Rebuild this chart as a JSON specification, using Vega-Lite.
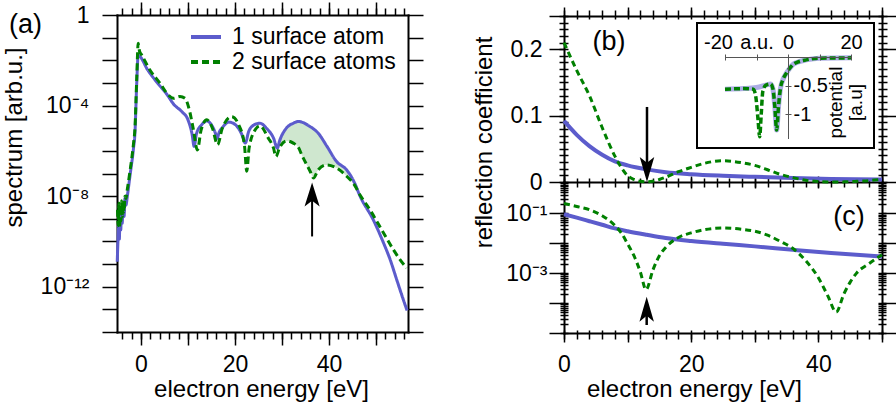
{
  "$schema": "https://vega.github.io/schema/vega-lite/v6.json",
  "width": 896,
  "height": 406,
  "autosize": "none",
  "padding": 0,
  "config": {
    "view": {"stroke": null},
    "font": "Liberation Sans",
    "axis": {
      "grid": false,
      "domainColor": "#000",
      "domainWidth": 2,
      "domainCap": "square",
      "tickColor": "#000",
      "tickWidth": 1.5,
      "labelColor": "#000",
      "labelFont": "Liberation Sans",
      "labelFontSize": 23,
      "labelFlush": false,
      "labelOverlap": false,
      "labelBound": false,
      "titleColor": "#000",
      "titleFont": "Liberation Sans",
      "titleFontSize": 24,
      "titleFontWeight": "normal",
      "titlePadding": 0
    }
  },
  "datasets": {
    "spectrum": [
      {"E": -5.05, "S": 1.26e-11, "series": "1 surface atom"},
      {"E": -4.9, "S": 1e-10, "series": "1 surface atom"},
      {"E": -4.75, "S": 5.01e-10, "series": "1 surface atom"},
      {"E": -4.6, "S": 1.26e-10, "series": "1 surface atom"},
      {"E": -4.45, "S": 2.0e-9, "series": "1 surface atom"},
      {"E": -4.3, "S": 3.16e-10, "series": "1 surface atom"},
      {"E": -4.15, "S": 3.16e-9, "series": "1 surface atom"},
      {"E": -4.0, "S": 6.31e-10, "series": "1 surface atom"},
      {"E": -3.8, "S": 3.98e-9, "series": "1 surface atom"},
      {"E": -3.6, "S": 1.26e-9, "series": "1 surface atom"},
      {"E": -3.4, "S": 7.94e-9, "series": "1 surface atom"},
      {"E": -3.2, "S": 3.98e-9, "series": "1 surface atom"},
      {"E": -2.9, "S": 1e-8, "series": "1 surface atom"},
      {"E": -2.34, "S": 7.94e-8, "series": "1 surface atom"},
      {"E": -1.6, "S": 1.26e-6, "series": "1 surface atom"},
      {"E": -1.28, "S": 6.31e-6, "series": "1 surface atom"},
      {"E": -0.9, "S": 1e-3, "series": "1 surface atom"},
      {"E": -0.6, "S": 1.66e-2, "series": "1 surface atom"},
      {"E": 1.5, "S": 3.55e-3, "series": "1 surface atom"},
      {"E": 3.5, "S": 1e-3, "series": "1 surface atom"},
      {"E": 5.5, "S": 3.16e-4, "series": "1 surface atom"},
      {"E": 7.0, "S": 1.12e-4, "series": "1 surface atom"},
      {"E": 8.7, "S": 5.37e-5, "series": "1 surface atom"},
      {"E": 10.0, "S": 2.34e-5, "series": "1 surface atom"},
      {"E": 10.9, "S": 5.01e-6, "series": "1 surface atom"},
      {"E": 11.3, "S": 1.58e-6, "series": "1 surface atom"},
      {"E": 11.8, "S": 5.62e-6, "series": "1 surface atom"},
      {"E": 12.9, "S": 1.41e-5, "series": "1 surface atom"},
      {"E": 14.0, "S": 2.09e-5, "series": "1 surface atom"},
      {"E": 15.0, "S": 1.41e-5, "series": "1 surface atom"},
      {"E": 15.8, "S": 6.31e-6, "series": "1 surface atom"},
      {"E": 16.2, "S": 3.55e-6, "series": "1 surface atom"},
      {"E": 16.6, "S": 6.31e-6, "series": "1 surface atom"},
      {"E": 17.4, "S": 1.12e-5, "series": "1 surface atom"},
      {"E": 18.7, "S": 1.86e-5, "series": "1 surface atom"},
      {"E": 20.0, "S": 1.48e-5, "series": "1 surface atom"},
      {"E": 21.4, "S": 5.62e-6, "series": "1 surface atom"},
      {"E": 22.2, "S": 2.24e-6, "series": "1 surface atom"},
      {"E": 22.9, "S": 7.08e-6, "series": "1 surface atom"},
      {"E": 24.0, "S": 1.38e-5, "series": "1 surface atom"},
      {"E": 25.3, "S": 1.66e-5, "series": "1 surface atom"},
      {"E": 26.7, "S": 1e-5, "series": "1 surface atom"},
      {"E": 28.2, "S": 3.63e-6, "series": "1 surface atom"},
      {"E": 29.0, "S": 1.32e-6, "series": "1 surface atom"},
      {"E": 29.5, "S": 2.82e-6, "series": "1 surface atom"},
      {"E": 31.0, "S": 1.05e-5, "series": "1 surface atom"},
      {"E": 32.4, "S": 1.66e-5, "series": "1 surface atom"},
      {"E": 33.5, "S": 2.0e-5, "series": "1 surface atom"},
      {"E": 34.2, "S": 1.86e-5, "series": "1 surface atom"},
      {"E": 36.0, "S": 1.17e-5, "series": "1 surface atom"},
      {"E": 36.7, "S": 9.33e-6, "series": "1 surface atom"},
      {"E": 37.7, "S": 6.03e-6, "series": "1 surface atom"},
      {"E": 39.5, "S": 1.66e-6, "series": "1 surface atom"},
      {"E": 41.6, "S": 3.39e-7, "series": "1 surface atom"},
      {"E": 43.8, "S": 1.41e-7, "series": "1 surface atom"},
      {"E": 45.4, "S": 3.98e-8, "series": "1 surface atom"},
      {"E": 46.6, "S": 1e-8, "series": "1 surface atom"},
      {"E": 49.4, "S": 9.12e-10, "series": "1 surface atom"},
      {"E": 51.6, "S": 8.51e-11, "series": "1 surface atom"},
      {"E": 53.0, "S": 1.58e-11, "series": "1 surface atom"},
      {"E": 54.4, "S": 2.04e-12, "series": "1 surface atom"},
      {"E": 55.8, "S": 2.69e-13, "series": "1 surface atom"},
      {"E": 56.6, "S": 8.91e-14, "series": "1 surface atom"},
      {"E": -5.0, "S": 2.51e-9, "series": "2 surface atoms"},
      {"E": -4.85, "S": 5.01e-10, "series": "2 surface atoms"},
      {"E": -4.7, "S": 5.01e-9, "series": "2 surface atoms"},
      {"E": -4.55, "S": 3.98e-10, "series": "2 surface atoms"},
      {"E": -4.4, "S": 3.98e-9, "series": "2 surface atoms"},
      {"E": -4.25, "S": 7.94e-10, "series": "2 surface atoms"},
      {"E": -4.1, "S": 6.31e-9, "series": "2 surface atoms"},
      {"E": -3.95, "S": 1.26e-9, "series": "2 surface atoms"},
      {"E": -3.8, "S": 5.01e-9, "series": "2 surface atoms"},
      {"E": -3.6, "S": 2.0e-9, "series": "2 surface atoms"},
      {"E": -3.4, "S": 1e-8, "series": "2 surface atoms"},
      {"E": -3.2, "S": 7.94e-9, "series": "2 surface atoms"},
      {"E": -2.9, "S": 2.0e-8, "series": "2 surface atoms"},
      {"E": -2.34, "S": 1.26e-7, "series": "2 surface atoms"},
      {"E": -1.6, "S": 2.0e-6, "series": "2 surface atoms"},
      {"E": -1.28, "S": 1e-5, "series": "2 surface atoms"},
      {"E": -0.9, "S": 1.58e-3, "series": "2 surface atoms"},
      {"E": -0.6, "S": 5.62e-2, "series": "2 surface atoms"},
      {"E": -0.3, "S": 2.51e-2, "series": "2 surface atoms"},
      {"E": 0.14, "S": 1.74e-2, "series": "2 surface atoms"},
      {"E": 1.9, "S": 3.72e-3, "series": "2 surface atoms"},
      {"E": 4.04, "S": 9.77e-4, "series": "2 surface atoms"},
      {"E": 5.8, "S": 2.95e-4, "series": "2 surface atoms"},
      {"E": 6.9, "S": 2.09e-4, "series": "2 surface atoms"},
      {"E": 8.3, "S": 2.51e-4, "series": "2 surface atoms"},
      {"E": 9.36, "S": 2.09e-4, "series": "2 surface atoms"},
      {"E": 10.2, "S": 7.59e-5, "series": "2 surface atoms"},
      {"E": 11.1, "S": 1e-5, "series": "2 surface atoms"},
      {"E": 12.0, "S": 1.10e-6, "series": "2 surface atoms"},
      {"E": 12.8, "S": 8.51e-6, "series": "2 surface atoms"},
      {"E": 14.0, "S": 2.34e-5, "series": "2 surface atoms"},
      {"E": 15.2, "S": 1e-5, "series": "2 surface atoms"},
      {"E": 16.3, "S": 1.86e-6, "series": "2 surface atoms"},
      {"E": 17.3, "S": 1e-5, "series": "2 surface atoms"},
      {"E": 19.3, "S": 3.24e-5, "series": "2 surface atoms"},
      {"E": 20.8, "S": 1.41e-5, "series": "2 surface atoms"},
      {"E": 22.0, "S": 1.86e-6, "series": "2 surface atoms"},
      {"E": 22.5, "S": 1.26e-7, "series": "2 surface atoms"},
      {"E": 23.0, "S": 1.32e-6, "series": "2 surface atoms"},
      {"E": 24.3, "S": 8.51e-6, "series": "2 surface atoms"},
      {"E": 25.3, "S": 1.26e-5, "series": "2 surface atoms"},
      {"E": 27.1, "S": 3.63e-6, "series": "2 surface atoms"},
      {"E": 28.2, "S": 1.32e-6, "series": "2 surface atoms"},
      {"E": 28.7, "S": 5.62e-7, "series": "2 surface atoms"},
      {"E": 29.5, "S": 1.41e-6, "series": "2 surface atoms"},
      {"E": 31.0, "S": 2.75e-6, "series": "2 surface atoms"},
      {"E": 32.4, "S": 2.19e-6, "series": "2 surface atoms"},
      {"E": 33.5, "S": 1.41e-6, "series": "2 surface atoms"},
      {"E": 34.2, "S": 6.61e-7, "series": "2 surface atoms"},
      {"E": 36.0, "S": 1.23e-7, "series": "2 surface atoms"},
      {"E": 36.7, "S": 6.31e-8, "series": "2 surface atoms"},
      {"E": 37.7, "S": 1.45e-7, "series": "2 surface atoms"},
      {"E": 39.5, "S": 2.40e-7, "series": "2 surface atoms"},
      {"E": 41.6, "S": 1.74e-7, "series": "2 surface atoms"},
      {"E": 43.8, "S": 7.41e-8, "series": "2 surface atoms"},
      {"E": 45.4, "S": 3.16e-8, "series": "2 surface atoms"},
      {"E": 46.6, "S": 1.12e-8, "series": "2 surface atoms"},
      {"E": 48.7, "S": 2.51e-9, "series": "2 surface atoms"},
      {"E": 51.6, "S": 2.34e-10, "series": "2 surface atoms"},
      {"E": 53.7, "S": 4.27e-11, "series": "2 surface atoms"},
      {"E": 55.1, "S": 1.58e-11, "series": "2 surface atoms"},
      {"E": 56.5, "S": 6.76e-12, "series": "2 surface atoms"}
    ],
    "gap": [
      {"E": 29.5, "lo": 1.41e-6, "hi": 2.82e-6},
      {"E": 31.0, "lo": 2.75e-6, "hi": 1.05e-5},
      {"E": 32.4, "lo": 2.19e-6, "hi": 1.66e-5},
      {"E": 33.5, "lo": 1.41e-6, "hi": 2.0e-5},
      {"E": 34.2, "lo": 6.61e-7, "hi": 1.86e-5},
      {"E": 36.0, "lo": 1.23e-7, "hi": 1.17e-5},
      {"E": 36.7, "lo": 6.31e-8, "hi": 9.33e-6},
      {"E": 37.7, "lo": 1.45e-7, "hi": 6.03e-6},
      {"E": 39.5, "lo": 2.40e-7, "hi": 1.66e-6},
      {"E": 41.6, "lo": 1.74e-7, "hi": 3.39e-7},
      {"E": 43.8, "lo": 7.41e-8, "hi": 1.41e-7},
      {"E": 45.4, "lo": 3.16e-8, "hi": 3.98e-8}
    ],
    "reflection": [
      {"E": 0, "R": 0.092, "series": "1 surface atom"},
      {"E": 2, "R": 0.071, "series": "1 surface atom"},
      {"E": 4, "R": 0.054, "series": "1 surface atom"},
      {"E": 6, "R": 0.041, "series": "1 surface atom"},
      {"E": 8, "R": 0.031, "series": "1 surface atom"},
      {"E": 10, "R": 0.025, "series": "1 surface atom"},
      {"E": 13, "R": 0.019, "series": "1 surface atom"},
      {"E": 16, "R": 0.0148, "series": "1 surface atom"},
      {"E": 20, "R": 0.0118, "series": "1 surface atom"},
      {"E": 25, "R": 0.0095, "series": "1 surface atom"},
      {"E": 30, "R": 0.0078, "series": "1 surface atom"},
      {"E": 36, "R": 0.006, "series": "1 surface atom"},
      {"E": 42, "R": 0.0047, "series": "1 surface atom"},
      {"E": 50, "R": 0.0036, "series": "1 surface atom"},
      {"E": 0, "R": 0.21, "series": "2 surface atoms"},
      {"E": 2, "R": 0.168, "series": "2 surface atoms"},
      {"E": 4, "R": 0.13, "series": "2 surface atoms"},
      {"E": 6, "R": 0.082, "series": "2 surface atoms"},
      {"E": 8, "R": 0.039, "series": "2 surface atoms"},
      {"E": 9, "R": 0.022, "series": "2 surface atoms"},
      {"E": 10, "R": 0.0095, "series": "2 surface atoms"},
      {"E": 11, "R": 0.0038, "series": "2 surface atoms"},
      {"E": 12, "R": 0.0011, "series": "2 surface atoms"},
      {"E": 12.9, "R": 0.00028, "series": "2 surface atoms"},
      {"E": 14, "R": 0.0013, "series": "2 surface atoms"},
      {"E": 15, "R": 0.0038, "series": "2 surface atoms"},
      {"E": 16, "R": 0.0072, "series": "2 surface atoms"},
      {"E": 18, "R": 0.0155, "series": "2 surface atoms"},
      {"E": 20, "R": 0.022, "series": "2 surface atoms"},
      {"E": 22, "R": 0.028, "series": "2 surface atoms"},
      {"E": 25, "R": 0.032, "series": "2 surface atoms"},
      {"E": 28, "R": 0.029, "series": "2 surface atoms"},
      {"E": 30, "R": 0.025, "series": "2 surface atoms"},
      {"E": 32, "R": 0.0185, "series": "2 surface atoms"},
      {"E": 34, "R": 0.0115, "series": "2 surface atoms"},
      {"E": 36, "R": 0.0066, "series": "2 surface atoms"},
      {"E": 38, "R": 0.0026, "series": "2 surface atoms"},
      {"E": 40, "R": 0.0007, "series": "2 surface atoms"},
      {"E": 41.5, "R": 0.00017, "series": "2 surface atoms"},
      {"E": 42.8, "R": 0.00005, "series": "2 surface atoms"},
      {"E": 44, "R": 0.0002, "series": "2 surface atoms"},
      {"E": 45, "R": 0.0005, "series": "2 surface atoms"},
      {"E": 46, "R": 0.001, "series": "2 surface atoms"},
      {"E": 48, "R": 0.0021, "series": "2 surface atoms"},
      {"E": 50, "R": 0.0041, "series": "2 surface atoms"}
    ],
    "potential": [
      {"z": -20, "V": -0.56, "series": "1 surface atom"},
      {"z": -14, "V": -0.55, "series": "1 surface atom"},
      {"z": -10, "V": -0.53, "series": "1 surface atom"},
      {"z": -7, "V": -0.49, "series": "1 surface atom"},
      {"z": -5.5, "V": -0.47, "series": "1 surface atom"},
      {"z": -4.8, "V": -0.55, "series": "1 surface atom"},
      {"z": -4.2, "V": -0.85, "series": "1 surface atom"},
      {"z": -3.6, "V": -1.27, "series": "1 surface atom"},
      {"z": -3.0, "V": -0.85, "series": "1 surface atom"},
      {"z": -2.4, "V": -0.55, "series": "1 surface atom"},
      {"z": -1.5, "V": -0.38, "series": "1 surface atom"},
      {"z": -0.5, "V": -0.28, "series": "1 surface atom"},
      {"z": 0.5, "V": -0.2, "series": "1 surface atom"},
      {"z": 1.6, "V": -0.13, "series": "1 surface atom"},
      {"z": 3, "V": -0.09, "series": "1 surface atom"},
      {"z": 5.8, "V": -0.05, "series": "1 surface atom"},
      {"z": 10, "V": -0.02, "series": "1 surface atom"},
      {"z": 20, "V": -0.015, "series": "1 surface atom"},
      {"z": -20, "V": -0.56, "series": "2 surface atoms"},
      {"z": -14, "V": -0.55, "series": "2 surface atoms"},
      {"z": -11, "V": -0.56, "series": "2 surface atoms"},
      {"z": -10.2, "V": -0.7, "series": "2 surface atoms"},
      {"z": -9.5, "V": -1.1, "series": "2 surface atoms"},
      {"z": -9.0, "V": -1.39, "series": "2 surface atoms"},
      {"z": -8.5, "V": -1.0, "series": "2 surface atoms"},
      {"z": -8.0, "V": -0.6, "series": "2 surface atoms"},
      {"z": -7, "V": -0.49, "series": "2 surface atoms"},
      {"z": -5.5, "V": -0.47, "series": "2 surface atoms"},
      {"z": -4.8, "V": -0.55, "series": "2 surface atoms"},
      {"z": -4.2, "V": -0.85, "series": "2 surface atoms"},
      {"z": -3.6, "V": -1.27, "series": "2 surface atoms"},
      {"z": -3.0, "V": -0.85, "series": "2 surface atoms"},
      {"z": -2.4, "V": -0.55, "series": "2 surface atoms"},
      {"z": -1.5, "V": -0.38, "series": "2 surface atoms"},
      {"z": -0.5, "V": -0.28, "series": "2 surface atoms"},
      {"z": 0.5, "V": -0.2, "series": "2 surface atoms"},
      {"z": 1.6, "V": -0.13, "series": "2 surface atoms"},
      {"z": 3, "V": -0.09, "series": "2 surface atoms"},
      {"z": 5.8, "V": -0.05, "series": "2 surface atoms"},
      {"z": 10, "V": -0.02, "series": "2 surface atoms"},
      {"z": 20, "V": -0.015, "series": "2 surface atoms"}
    ],
    "arrows": [
      {"panel": "a", "E": 36.4, "tip": 3.98e-8, "mid": 1.17e-8, "tail": 1.66e-10},
      {"panel": "b", "E": 13.05, "tip": 0, "mid": 0.0196, "tail": 0.113},
      {"panel": "c", "E": 13.0, "tip": 1.63e-4, "mid": 6.49e-5, "tail": 1.85e-5}
    ]
  },
  "layer": [
    {
      "layer": [
        {
          "data": {"name": "gap"},
          "mark": {"type": "area", "interpolate": "monotone", "color": "#cfe7cf"},
          "encoding": {
            "x": {"field": "E", "type": "quantitative",
              "scale": {"domain": [-5.1, 56.8], "range": [117, 408], "nice": false, "zero": false},
              "axis": {"orient": "bottom", "offset": -74, "values": [0, 10, 20, 30, 40, 50], "tickSize": 13, "labelPadding": 8,
                "labelExpr": "datum.value % 20 == 0 ? datum.label : ''",
                "title": "electron energy [eV]", "titleX": 261, "titleY": 57.5, "titleAngle": 0, "titleAlign": "center", "titleBaseline": "middle"}},
            "y": {"field": "lo", "type": "quantitative",
              "scale": {"type": "log", "domain": [1e-14, 1], "range": [332, 15], "nice": false},
              "axis": {"orient": "left", "offset": -117, "values": [1, 0.1, 0.01, 0.001, 1e-4, 1e-5, 1e-6, 1e-7, 1e-8, 1e-9, 1e-10, 1e-11, 1e-12, 1e-13, 1e-14],
                "tickSize": 15, "labelPadding": 13,
                "labelExpr": "round(log(datum.value)/LN10) == 0 ? '1' : round(log(datum.value)/LN10) == -4 ? '10⁻⁴' : round(log(datum.value)/LN10) == -8 ? '10⁻⁸' : round(log(datum.value)/LN10) == -12 ? '10⁻¹²' : ''",
                "title": "spectrum [arb.u.]", "titleX": -103, "titleY": 137, "titleAngle": 270, "titleAlign": "center", "titleBaseline": "middle"}},
            "y2": {"field": "hi"}
          }
        },
        {
          "data": {"name": "spectrum"},
          "mark": {"type": "line", "interpolate": "monotone", "strokeWidth": 3},
          "encoding": {
            "x": {"field": "E", "type": "quantitative",
              "scale": {"domain": [-5.1, 56.8], "range": [117, 408], "nice": false, "zero": false},
              "axis": {"orient": "bottom", "offset": -74, "values": [-4, -2, 0, 2, 4, 6, 8, 10, 12, 14, 16, 18, 20, 22, 24, 26, 28, 30, 32, 34, 36, 38, 40, 42, 44, 46, 48, 50, 52, 54, 56],
                "tickSize": 7, "labels": false, "domain": false, "title": null}},
            "y": {"field": "S", "type": "quantitative",
              "scale": {"type": "log", "domain": [1e-14, 1], "range": [332, 15], "nice": false},
              "axis": {"orient": "right", "offset": -488, "values": [1, 0.1, 0.01, 0.001, 1e-4, 1e-5, 1e-6, 1e-7, 1e-8, 1e-9, 1e-10, 1e-11, 1e-12, 1e-13, 1e-14],
                "tickSize": 15, "labels": false, "title": null}},
            "color": {"field": "series", "type": "nominal",
              "scale": {"domain": ["1 surface atom", "2 surface atoms"], "range": ["#5c5ccc", "#008000"]},
              "legend": {"title": null, "orient": "none", "legendX": 189, "legendY": 27, "symbolType": "stroke", "symbolSize": 900, "symbolStrokeWidth": 4,
                "labelFont": "Liberation Sans", "labelFontSize": 23, "labelColor": "#000", "labelOffset": 9, "labelLimit": 400, "clipHeight": 20, "rowPadding": 2, "padding": 0}},
            "strokeDash": {"field": "series", "type": "nominal",
              "scale": {"domain": ["1 surface atom", "2 surface atoms"], "range": [[1, 0], [7, 4]]},
              "legend": {"title": null, "orient": "none", "legendX": 189, "legendY": 27, "symbolType": "stroke", "symbolSize": 900, "symbolStrokeWidth": 4,
                "labelFont": "Liberation Sans", "labelFontSize": 23, "labelColor": "#000", "labelOffset": 9, "labelLimit": 400, "clipHeight": 20, "rowPadding": 2, "padding": 0}}
          }
        },
        {
          "data": {"name": "arrows"},
          "transform": [{"filter": "datum.panel == 'a'"}],
          "mark": {"type": "rule", "strokeWidth": 2, "color": "#000"},
          "encoding": {
            "x": {"field": "E", "type": "quantitative",
              "scale": {"domain": [-5.1, 56.8], "range": [117, 408], "nice": false, "zero": false},
              "axis": {"orient": "top", "offset": -15, "values": [0, 10, 20, 30, 40, 50], "tickSize": 13, "labels": false,
                "title": "(a)", "titleX": 25, "titleY": 9, "titleAngle": 0, "titleAlign": "center", "titleBaseline": "middle", "titleFontSize": 27}},
            "y": {"field": "tail", "type": "quantitative",
              "scale": {"type": "log", "domain": [1e-14, 1], "range": [332, 15], "nice": false}, "axis": null},
            "y2": {"field": "mid"}
          }
        },
        {
          "data": {"name": "arrows"},
          "transform": [{"filter": "datum.panel == 'a'"}],
          "mark": {"type": "point", "shape": "M0,0L0.6,1.9L0,1.45L-0.6,1.9Z", "size": 635, "filled": true, "color": "#000", "opacity": 1, "strokeWidth": 0},
          "encoding": {
            "x": {"field": "E", "type": "quantitative",
              "scale": {"domain": [-5.1, 56.8], "range": [117, 408], "nice": false, "zero": false},
              "axis": {"orient": "top", "offset": -15, "values": [-4, -2, 0, 2, 4, 6, 8, 10, 12, 14, 16, 18, 20, 22, 24, 26, 28, 30, 32, 34, 36, 38, 40, 42, 44, 46, 48, 50, 52, 54, 56],
                "tickSize": 7, "labels": false, "domain": false, "title": null}},
            "y": {"field": "tip", "type": "quantitative",
              "scale": {"type": "log", "domain": [1e-14, 1], "range": [332, 15], "nice": false}, "axis": null}
          }
        }
      ],
      "resolve": {"axis": {"x": "independent", "y": "independent"}}
    },
    {
      "layer": [
        {
          "data": {"name": "reflection"},
          "transform": [{"filter": "datum.series == '1 surface atom'"}],
          "mark": {"type": "line", "interpolate": "monotone", "strokeWidth": 4, "color": "#5c5ccc"},
          "encoding": {
            "x": {"field": "E", "type": "quantitative",
              "scale": {"domain": [0, 50], "range": [564, 882], "nice": false, "zero": false},
              "axis": {"orient": "top", "offset": -16, "values": [0, 10, 20, 30, 40, 50], "tickSize": 9, "labels": false, "title": null}},
            "y": {"field": "R", "type": "quantitative",
              "scale": {"domain": [0, 0.25], "range": [182, 16], "nice": false, "zero": false},
              "axis": {"orient": "left", "offset": -564, "values": [0, 0.1, 0.2, 0.25], "tickSize": 15, "labelPadding": 7,
                "labelExpr": "datum.value > 0.24 ? '' : datum.value == 0 ? '0' : format(datum.value, '.1f')",
                "title": "reflection coefficient", "titleX": -80, "titleY": 142, "titleAngle": 270, "titleAlign": "center", "titleBaseline": "middle"}}
          }
        },
        {
          "data": {"name": "reflection"},
          "transform": [{"filter": "datum.series == '2 surface atoms'"}],
          "mark": {"type": "line", "interpolate": "monotone", "strokeWidth": 3, "color": "#008000", "strokeDash": [6, 4]},
          "encoding": {
            "x": {"field": "E", "type": "quantitative",
              "scale": {"domain": [0, 50], "range": [564, 882], "nice": false, "zero": false},
              "axis": {"orient": "top", "offset": -19, "values": [0, 2, 4, 6, 8, 10, 12, 14, 16, 18, 20, 22, 24, 26, 28, 30, 32, 34, 36, 38, 40, 42, 44, 46, 48, 50],
                "tickSize": 9, "labels": false, "domain": false, "title": null}},
            "y": {"field": "R", "type": "quantitative",
              "scale": {"domain": [0, 0.25], "range": [182, 16], "nice": false, "zero": false},
              "axis": {"orient": "left", "offset": -568, "values": [0, 0.01, 0.02, 0.03, 0.04, 0.05, 0.06, 0.07, 0.08, 0.09, 0.1, 0.11, 0.12, 0.13, 0.14, 0.15, 0.16, 0.17, 0.18, 0.19, 0.2, 0.21, 0.22, 0.23, 0.24, 0.25],
                "tickSize": 9, "labels": false, "domain": false, "title": null}}
          }
        },
        {
          "data": {"name": "arrows"},
          "transform": [{"filter": "datum.panel == 'b'"}],
          "mark": {"type": "rule", "strokeWidth": 2.5, "color": "#000"},
          "encoding": {
            "x": {"field": "E", "type": "quantitative",
              "scale": {"domain": [0, 50], "range": [564, 882], "nice": false, "zero": false},
              "axis": {"orient": "bottom", "offset": -228, "values": [0, 2, 4, 6, 8, 10, 12, 14, 16, 18, 20, 22, 24, 26, 28, 30, 32, 34, 36, 38, 40, 42, 44, 46, 48, 50],
                "tickSize": 9, "labels": false, "domain": false, "title": null}},
            "y": {"field": "tail", "type": "quantitative",
              "scale": {"domain": [0, 0.25], "range": [182, 16], "nice": false, "zero": false},
              "axis": {"orient": "right", "offset": -14, "values": [0, 0.1, 0.2, 0.25], "tickSize": 14, "labels": false, "title": null}},
            "y2": {"field": "mid"}
          }
        },
        {
          "data": {"name": "arrows"},
          "transform": [{"filter": "datum.panel == 'b'"}],
          "mark": {"type": "point", "shape": "M0,0L0.55,-1.9L0,-1.45L-0.55,-1.9Z", "size": 697, "filled": true, "color": "#000", "opacity": 1, "strokeWidth": 0},
          "encoding": {
            "x": {"field": "E", "type": "quantitative",
              "scale": {"domain": [0, 50], "range": [564, 882], "nice": false, "zero": false},
              "axis": {"orient": "bottom", "offset": -230, "values": [0, 10, 20, 30, 40, 50], "tickSize": 12, "labels": false, "domain": false, "title": null}},
            "y": {"field": "tip", "type": "quantitative",
              "scale": {"domain": [0, 0.25], "range": [182, 16], "nice": false, "zero": false},
              "axis": {"orient": "right", "offset": -18, "values": [0, 0.01, 0.02, 0.03, 0.04, 0.05, 0.06, 0.07, 0.08, 0.09, 0.1, 0.11, 0.12, 0.13, 0.14, 0.15, 0.16, 0.17, 0.18, 0.19, 0.2, 0.21, 0.22, 0.23, 0.24, 0.25],
                "tickSize": 9, "labels": false, "domain": false, "title": null}}
          }
        },
        {
          "data": {"values": [{"E": 7.08, "R": 0.211, "label": "(b)"}]},
          "mark": {"type": "text", "fontSize": 27, "font": "Liberation Sans", "color": "#000", "align": "center", "baseline": "middle"},
          "encoding": {
            "x": {"field": "E", "type": "quantitative",
              "scale": {"domain": [0, 50], "range": [564, 882], "nice": false, "zero": false}, "axis": null},
            "y": {"field": "R", "type": "quantitative",
              "scale": {"domain": [0, 0.25], "range": [182, 16], "nice": false, "zero": false}, "axis": null},
            "text": {"field": "label"}
          }
        }
      ],
      "resolve": {"axis": {"x": "independent", "y": "independent"}}
    },
    {
      "data": {"values": [{}]},
      "mark": {"type": "rect", "fill": "#fff", "stroke": "#000", "strokeWidth": 2},
      "encoding": {
        "x": {"datum": 0, "type": "quantitative", "scale": {"domain": [0, 1], "range": [697, 874], "nice": false, "zero": false}, "axis": null},
        "x2": {"datum": 1},
        "y": {"datum": 0, "type": "quantitative", "scale": {"domain": [0, 1], "range": [148, 23], "nice": false, "zero": false}, "axis": null},
        "y2": {"datum": 1}
      }
    },
    {
      "layer": [
        {
          "data": {"name": "potential"},
          "transform": [{"filter": "datum.series == '1 surface atom'"}],
          "mark": {"type": "line", "interpolate": "monotone", "strokeWidth": 5, "color": "#5c5ccc", "opacity": 0.5},
          "encoding": {
            "x": {"field": "z", "type": "quantitative",
              "scale": {"domain": [-20, 20], "range": [725, 851], "nice": false, "zero": false},
              "axis": {"orient": "top", "offset": -57, "values": [-20, -10, 0, 20], "ticks": false, "tickSize": 0, "labelPadding": 5, "labelFontSize": 20,
                "labelOffset": {"condition": {"test": "datum.value == -20", "value": -7}, "value": 0},
                "labelExpr": "datum.value == -10 ? 'a.u.' : datum.value == -20 ? '-20' : datum.value == 0 ? '0' : '20'",
                "domainWidth": 1, "domainColor": "#555", "title": null, "zindex": 1}},
            "y": {"field": "V", "type": "quantitative",
              "scale": {"domain": [-1.41, 0], "range": [138, 57], "nice": false, "zero": false},
              "axis": {"orient": "right", "offset": -108, "values": [-0.5, -1], "ticks": false, "tickSize": 0, "labelPadding": 5, "labelFontSize": 20,
                "labelExpr": "datum.value == -0.5 ? '-0.5' : '-1'",
                "domainWidth": 1, "domainColor": "#555",
                "title": ["potential", "[a.u]"], "titleFontSize": 19, "titleLineHeight": 20, "titleX": 47, "titleY": 102, "titleAngle": 270, "titleAlign": "center", "titleBaseline": "middle", "zindex": 1}}
          }
        },
        {
          "data": {"name": "potential"},
          "transform": [{"filter": "datum.series == '2 surface atoms'"}],
          "mark": {"type": "line", "interpolate": "monotone", "strokeWidth": 3.5, "color": "#008000", "strokeDash": [6, 3]},
          "encoding": {
            "x": {"field": "z", "type": "quantitative",
              "scale": {"domain": [-20, 20], "range": [725, 851], "nice": false, "zero": false},
              "axis": {"orient": "top", "offset": -60, "values": [-20, -10, 0, 10, 20], "tickSize": 6, "tickWidth": 1, "tickColor": "#555", "labels": false, "domain": false, "title": null, "zindex": 1}},
            "y": {"field": "V", "type": "quantitative",
              "scale": {"domain": [-1.41, 0], "range": [138, 57], "nice": false, "zero": false},
              "axis": {"orient": "right", "offset": -111, "values": [-0.5, -1], "tickSize": 6, "tickWidth": 1, "tickColor": "#555", "labels": false, "domain": false, "title": null, "zindex": 1}}
          }
        }
      ],
      "resolve": {"axis": {"x": "independent", "y": "independent"}}
    },
    {
      "layer": [
        {
          "data": {"name": "reflection"},
          "transform": [{"filter": "datum.series == '1 surface atom'"}],
          "mark": {"type": "line", "interpolate": "monotone", "strokeWidth": 4, "color": "#5c5ccc"},
          "encoding": {
            "x": {"field": "E", "type": "quantitative",
              "scale": {"domain": [0, 50], "range": [564, 882], "nice": false, "zero": false},
              "axis": {"orient": "bottom", "offset": -73, "values": [0, 10, 20, 30, 40, 50], "tickSize": 9, "labelPadding": 11,
                "labelExpr": "datum.value % 20 == 0 ? datum.label : ''",
                "title": "electron energy [eV]", "titleX": 694, "titleY": 56.5, "titleAngle": 0, "titleAlign": "center", "titleBaseline": "middle"}},
            "y": {"field": "R", "type": "quantitative",
              "scale": {"type": "log", "domain": [1e-5, 1.1], "range": [333, 182], "nice": false},
              "axis": {"orient": "left", "offset": -564, "values": [1e-5, 1e-4, 1e-3, 1e-2, 0.1], "tickSize": 15, "labelPadding": 2,
                "labelExpr": "round(log(datum.value)/LN10) == -1 ? '10⁻¹' : round(log(datum.value)/LN10) == -3 ? '10⁻³' : ''",
                "title": null}}
          }
        },
        {
          "data": {"name": "reflection"},
          "transform": [{"filter": "datum.series == '2 surface atoms'"}],
          "mark": {"type": "line", "interpolate": "monotone", "strokeWidth": 3, "color": "#008000", "strokeDash": [6, 4]},
          "encoding": {
            "x": {"field": "E", "type": "quantitative",
              "scale": {"domain": [0, 50], "range": [564, 882], "nice": false, "zero": false},
              "axis": {"orient": "bottom", "offset": -76, "values": [0, 2, 4, 6, 8, 10, 12, 14, 16, 18, 20, 22, 24, 26, 28, 30, 32, 34, 36, 38, 40, 42, 44, 46, 48, 50],
                "tickSize": 9, "labels": false, "domain": false, "title": null}},
            "y": {"field": "R", "type": "quantitative",
              "scale": {"type": "log", "domain": [1e-5, 1.1], "range": [333, 182], "nice": false},
              "axis": {"orient": "left", "offset": -568,
                "values": [1e-5, 2e-5, 3e-5, 4e-5, 5e-5, 6e-5, 7e-5, 8e-5, 9e-5, 1e-4, 2e-4, 3e-4, 4e-4, 5e-4, 6e-4, 7e-4, 8e-4, 9e-4, 0.001, 0.002, 0.003, 0.004, 0.005, 0.006, 0.007, 0.008, 0.009, 0.01, 0.02, 0.03, 0.04, 0.05, 0.06, 0.07, 0.08, 0.09, 0.1, 0.2, 0.3, 0.4, 0.5, 0.6, 0.7, 0.8, 0.9, 1],
                "tickSize": 8, "labels": false, "domain": false, "title": null}}
          }
        },
        {
          "data": {"name": "arrows"},
          "transform": [{"filter": "datum.panel == 'c'"}],
          "mark": {"type": "rule", "strokeWidth": 2.5, "color": "#000"},
          "encoding": {
            "x": {"field": "E", "type": "quantitative",
              "scale": {"domain": [0, 50], "range": [564, 882], "nice": false, "zero": false},
              "axis": {"orient": "top", "offset": -182, "values": [0], "ticks": false, "labels": false, "title": null}},
            "y": {"field": "tail", "type": "quantitative",
              "scale": {"type": "log", "domain": [1e-5, 1.1], "range": [333, 182], "nice": false},
              "axis": {"orient": "right", "offset": -14, "values": [1e-5, 1e-4, 1e-3, 1e-2, 0.1], "tickSize": 14, "labels": false, "title": null}},
            "y2": {"field": "mid"}
          }
        },
        {
          "data": {"name": "arrows"},
          "transform": [{"filter": "datum.panel == 'c'"}],
          "mark": {"type": "point", "shape": "M0,0L0.55,1.9L0,1.45L-0.55,1.9Z", "size": 697, "filled": true, "color": "#000", "opacity": 1, "strokeWidth": 0},
          "encoding": {
            "x": {"field": "E", "type": "quantitative",
              "scale": {"domain": [0, 50], "range": [564, 882], "nice": false, "zero": false}, "axis": null},
            "y": {"field": "tip", "type": "quantitative",
              "scale": {"type": "log", "domain": [1e-5, 1.1], "range": [333, 182], "nice": false},
              "axis": {"orient": "right", "offset": -18,
                "values": [1e-5, 2e-5, 3e-5, 4e-5, 5e-5, 6e-5, 7e-5, 8e-5, 9e-5, 1e-4, 2e-4, 3e-4, 4e-4, 5e-4, 6e-4, 7e-4, 8e-4, 9e-4, 0.001, 0.002, 0.003, 0.004, 0.005, 0.006, 0.007, 0.008, 0.009, 0.01, 0.02, 0.03, 0.04, 0.05, 0.06, 0.07, 0.08, 0.09, 0.1, 0.2, 0.3, 0.4, 0.5, 0.6, 0.7, 0.8, 0.9, 1],
                "tickSize": 8, "labels": false, "domain": false, "title": null}}
          }
        },
        {
          "data": {"values": [{"E": 44.8, "R": 0.0747, "label": "(c)"}]},
          "mark": {"type": "text", "fontSize": 27, "font": "Liberation Sans", "color": "#000", "align": "center", "baseline": "middle"},
          "encoding": {
            "x": {"field": "E", "type": "quantitative",
              "scale": {"domain": [0, 50], "range": [564, 882], "nice": false, "zero": false}, "axis": null},
            "y": {"field": "R", "type": "quantitative",
              "scale": {"type": "log", "domain": [1e-5, 1.1], "range": [333, 182], "nice": false}, "axis": null},
            "text": {"field": "label"}
          }
        }
      ],
      "resolve": {"axis": {"x": "independent", "y": "independent"}}
    }
  ],
  "resolve": {
    "scale": {"x": "independent", "y": "independent"},
    "axis": {"x": "independent", "y": "independent"}
  }
}
